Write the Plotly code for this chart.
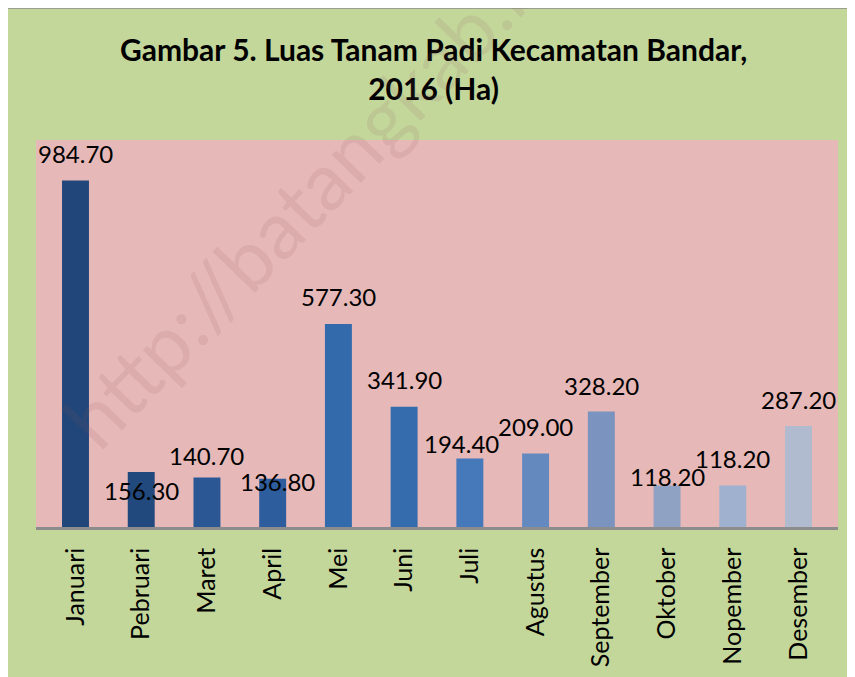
import plotly.graph_objects as go

# Luas tanam padi per bulan (Ha)
months = ['Januari', 'Pebruari', 'Maret', 'April', 'Mei', 'Juni', 'Juli',
          'Agustus', 'September', 'Oktober', 'Nopember', 'Desember']
luas = [984.70, 156.30, 140.70, 136.80, 577.30, 341.90, 194.40,
        209.00, 328.20, 118.20, 118.20, 287.20]

# bar colours, dark navy -> light steel blue
bar_colors = ['#21467a', '#22497e', '#2b5895', '#2d5d9c', '#336aac', '#346cae',
              '#4679ba', '#6489bf', '#7a93bf', '#8fa2c4', '#a0b1cf', '#b0bbcf']

# label nudges (px) as placed in the original chart
label_dx = [0, 0, 0, 5, 0, 0, -8, 0, 0, 0, 0, 0]
label_dy = [27, -18, 22, -3, 27, 27, 15, 27, 26, 9, 27, 26]

FONT = 'Lato'
OFF = 8  # page body margin
W, H = 855, 677
L, T = 36 - OFF, 140 - OFF
pw, ph = 802, 387
R, B = W - L - pw, H - T - ph


# page pixel -> paper coords
def px_x(x):
    return (x - OFF - L) / pw


def px_y(y):
    return (T + ph - (y - OFF)) / ph


fig = go.Figure()
fig.add_trace(go.Bar(
    x=months,
    y=luas,
    marker_color=bar_colors,
    marker_line_width=0,
    hoverinfo='x+y',
))

annotations = []
for m, v, dx, dy in zip(months, luas, label_dx, label_dy):
    annotations.append(dict(
        x=m, y=v, xref='x', yref='y',
        text=f'{v:.2f}', showarrow=False,
        xanchor='center', yanchor='middle',
        xshift=dx, yshift=dy,
        font=dict(family=FONT, size=24, color='black'),
    ))

# title
annotations.append(dict(
    x=px_x(433), y=px_y(69), xref='paper', yref='paper',
    text='<b>Gambar 5. Luas Tanam Padi Kecamatan Bandar,<br>2016 (Ha)</b>',
    showarrow=False, xanchor='center', yanchor='middle',
    font=dict(family=FONT, size=30, color='black'),
))

# watermark
annotations.append(dict(
    x=px_x(394), y=px_y(104), xref='paper', yref='paper',
    text='http://batangkab.bps.go.id', showarrow=False,
    xanchor='center', yanchor='middle', textangle=-46,
    font=dict(family=FONT, size=80, color='rgba(140,90,90,0.12)'),
))

shapes = [
    # top border line of the frame
    dict(type='line', xref='paper', yref='paper', layer='below',
         x0=px_x(0), x1=px_x(900), y0=px_y(8), y1=px_y(8),
         line=dict(color='#8c8c8c', width=1.5)),
]

fig.update_layout(
    width=W, height=H,
    margin=dict(l=L, r=R, t=T, b=B, pad=0),
    paper_bgcolor='#c4d79b',
    plot_bgcolor='#e6b8b7',
    showlegend=False,
    bargap=0.59,
    annotations=annotations,
    shapes=shapes,
    font=dict(family=FONT, color='black'),
)
fig.update_xaxes(
    tickangle=-90, tickfont=dict(family=FONT, size=25, color='black'),
    showline=True, linecolor='#8c8c8c', linewidth=2.5,
    ticks='', ticklabelstandoff=8, showgrid=False, zeroline=False,
    automargin=False,
)
fig.update_yaxes(
    range=[0, 1100], visible=False, showgrid=False, zeroline=False,
    automargin=False,
)

fig.write_html('out.html')
